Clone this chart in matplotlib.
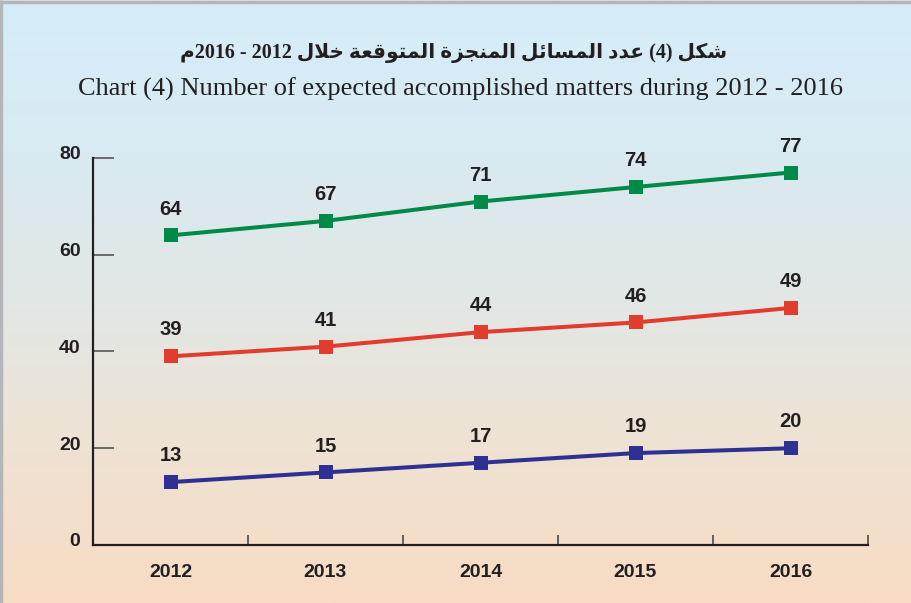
import numpy as np
import matplotlib
matplotlib.use("Agg")
import matplotlib.pyplot as plt
import matplotlib.transforms as mtransforms
from matplotlib.ticker import FixedLocator

# ---- data ----
years = ["2012", "2013", "2014", "2015", "2016"]
green_vals = [64, 67, 71, 74, 77]
red_vals = [39, 41, 44, 46, 49]
blue_vals = [13, 15, 17, 19, 20]
y_ticks = [0, 20, 40, 60, 80]

# Arabic title, pre-shaped in presentation forms (visual order)
title_ar = "\uFEE1" + "2016 - 2012 " + "\uFEDD\uFEFC\uFEA7 " + \
    "\uFE94\uFECC\uFED7\uFEEE\uFE98\uFEE4\uFEDF\uFE8D " + \
    "\uFE93\uFEB0\uFEA0\uFEE8\uFEE4\uFEDF\uFE8D " + \
    "\uFEDE\uFE8B\uFE8E\uFEB4\uFEE4\uFEDF\uFE8D " + \
    "\uFEA9\uFEAA\uFECB (4) " + "\uFEDE\uFEDC\uFEB7"
title_en = "Chart (4) Number of expected accomplished matters during 2012 - 2016"

W, H = 911, 603
fig = plt.figure(figsize=(W / 100, H / 100), dpi=100)

# ---- background gradient ----
bg = fig.add_axes([0, 0, 1, 1], zorder=-10)
stops = np.array([0.0, 0.25, 0.5, 0.75, 1.0])
cols = np.array([
    [213, 237, 249],
    [217, 234, 242],
    [226, 231, 229],
    [239, 226, 210],
    [248, 220, 196],
]) / 255.0
yy = np.linspace(0, 1, 400)
grad = np.stack([np.interp(yy, stops, cols[:, i]) for i in range(3)], axis=-1)
grad = np.repeat(grad[:, None, :], 4, axis=1)
bg.imshow(grad, aspect="auto", extent=[0, 1, 1, 0], interpolation="bilinear")
bg.set_xlim(0, 1)
bg.set_ylim(1, 0)
bg.axis("off")
# border top / left
bg.plot([0.0015, 0.0015], [0, 1], color="#b4b5b9", lw=2.5, solid_capstyle="butt")
bg.plot([0, 1], [0.0025, 0.0025], color="#b4b5b9", lw=2.5, solid_capstyle="butt")

# ---- titles ----
fig.text(454 / W, 1 - 53 / H, title_ar, ha="center", va="center",
         fontsize=14.5, fontweight="bold",
         family=["Liberation Serif", "DejaVu Sans"], color="#231f20")
fig.text(460 / W, 1 - 89 / H, title_en, ha="center", va="center",
         fontsize=19, family="Liberation Serif", color="#231f20")

# ---- main axes ----
left, right = 93 / W, 868 / W
bottom, top = 1 - 545 / H, 1 - 158 / H
ax = fig.add_axes([left, bottom, right - left, top - bottom])
ax.set_facecolor("none")

x = np.arange(len(years))
series = [
    (green_vals, "#008a47"),
    (red_vals, "#e23c2f"),
    (blue_vals, "#2e3192"),
]
for vals, c in series:
    ax.plot(x, vals, color=c, lw=2.9, marker="s", markersize=10.5,
            markeredgewidth=0, clip_on=False, zorder=3)
    for xi, v in zip(x, vals):
        ax.annotate(str(v), (xi, v), xytext=(0, 19), textcoords="offset points",
                    ha="center", va="center", fontsize=14.5, fontweight="bold",
                    family="Liberation Sans", color="#231f20")

ax.set_xlim(-0.5, 4.5)
ax.set_ylim(0, 80)

for s in ["top", "right"]:
    ax.spines[s].set_visible(False)
ax.spines["left"].set_linewidth(1.6)
ax.spines["bottom"].set_linewidth(1.6)
ax.spines["left"].set_color("#231f20")
ax.spines["bottom"].set_color("#231f20")

ax.set_xticks(x)
ax.set_xticklabels(years)
ax.xaxis.set_minor_locator(FixedLocator(np.arange(-0.5, 5.0, 1.0)))
ax.tick_params(axis="x", which="major", length=0, pad=14, labelsize=14)
ax.tick_params(axis="x", which="minor", direction="in", length=7, width=1.3,
               color="#555555")

ax.set_yticks(y_ticks)
ax.tick_params(axis="y", which="major", direction="in", length=15, width=1.2,
               color="#555555", pad=9, labelsize=14)

for lbl in ax.get_xticklabels() + ax.get_yticklabels():
    lbl.set_fontweight("bold")
    lbl.set_family("Liberation Sans")
    lbl.set_color("#231f20")

off = mtransforms.ScaledTranslation(0, 5 / 100, fig.dpi_scale_trans)
for lbl in ax.get_yticklabels():
    lbl.set_transform(lbl.get_transform() + off)

fig.savefig("out.png", dpi=100)
